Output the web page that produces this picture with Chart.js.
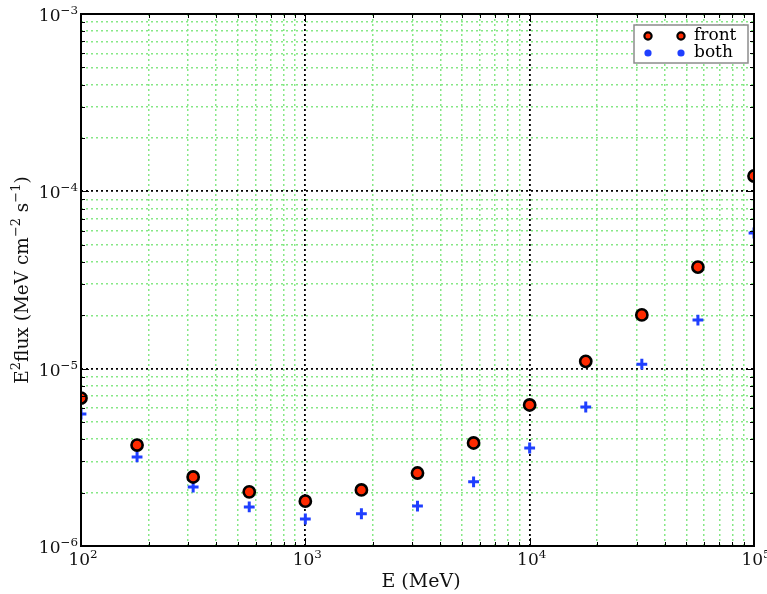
<!DOCTYPE html>
<html><head><meta charset="utf-8">
<script src="https://cdn.jsdelivr.net/npm/chart.js@4/dist/chart.umd.min.js"></script>
<style>html,body{margin:0;padding:0;background:#fff;} canvas{display:block;}</style>
</head><body>
<canvas id="c" width="767" height="594"></canvas>
<script>
const energies = [100, 177.8, 316.2, 562.3, 1000, 1778, 3162, 5623, 10000, 17783, 31623, 56234, 100000];
const fluxFront = [6.83e-6, 3.71e-6, 2.45e-6, 2.02e-6, 1.79e-6, 2.07e-6, 2.58e-6, 3.81e-6, 6.24e-6, 1.10e-5, 2.01e-5, 3.74e-5, 1.22e-4];
const fluxBoth = [5.55e-6, 3.18e-6, 2.15e-6, 1.66e-6, 1.42e-6, 1.52e-6, 1.68e-6, 2.30e-6, 3.57e-6, 6.08e-6, 1.06e-5, 1.88e-5, 5.82e-5];
const seriesNames = ['front', 'both'];
const xDecades = [100, 1000, 10000, 100000];
const xTickExponents = ['2', '3', '4', '5'];
const yDecades = [1e-6, 1e-5, 1e-4, 1e-3];
const yTickExponents = ['-6', '-5', '-4', '-3'];
const xTitle = [['E (MeV)', false]];
const yTitle = [['E', false], ['2', true], ['flux (MeV cm', false], ['−2', true], [' s', false], ['−1', true], [')', false]];

const SERIF = '"DejaVu Serif", serif';
const RED = '#ff2a00', BLUE = '#1f3fff', GREEN = '#86e886';

function withMinors(decades) {
  const out = [];
  for (let i = 0; i < decades.length; i++) {
    out.push(decades[i]);
    if (i < decades.length - 1) for (let k = 2; k <= 9; k++) out.push(decades[i] * k);
  }
  return out;
}
function isMajor(v) { const l = Math.log10(v); return Math.abs(l - Math.round(l)) < 1e-9; }
const xAll = withMinors(xDecades), yAll = withMinors(yDecades);

// rich text: segments [text, isSuperscript]
function richWidth(ctx, segs, size) {
  let w = 0;
  segs.forEach(([t, sup]) => { ctx.font = (sup ? size * 0.7 : size) + 'px ' + SERIF; w += ctx.measureText(t).width; });
  return w;
}
function drawRich(ctx, segs, x, baseline, size, align) {
  const w = richWidth(ctx, segs, size);
  let cx = align === 'right' ? x - w : align === 'center' ? x - w / 2 : x;
  ctx.textAlign = 'left'; ctx.textBaseline = 'alphabetic';
  segs.forEach(([t, sup]) => {
    ctx.font = (sup ? size * 0.7 : size) + 'px ' + SERIF;
    ctx.fillText(t, cx, sup ? baseline - size * 0.42 : baseline);
    cx += ctx.measureText(t).width;
  });
}

const gridOpts = {
  drawTicks: false,
  color: c => isMajor(c.tick.value) ? '#000000' : GREEN,
  lineWidth: c => isMajor(c.tick.value) ? 1.8 : 1.5
};
const borderOpts = { display: false, dash: [2, 3] };

const framePlugin = {
  id: 'frame',
  afterDatasetsDraw(chart) {
    const ctx = chart.ctx, a = chart.chartArea, xs = chart.scales.x, ys = chart.scales.y;
    ctx.save();
    ctx.strokeStyle = '#000'; ctx.lineWidth = 1;
    xAll.forEach(v => {
      const p = Math.round(xs.getPixelForValue(v)) + 0.5, L = isMajor(v) ? 8 : 4;
      ctx.beginPath(); ctx.moveTo(p, a.bottom); ctx.lineTo(p, a.bottom - L);
      ctx.moveTo(p, a.top); ctx.lineTo(p, a.top + L); ctx.stroke();
    });
    yAll.forEach(v => {
      const p = Math.round(ys.getPixelForValue(v)) + 0.5, L = isMajor(v) ? 8 : 4;
      ctx.beginPath(); ctx.moveTo(a.left, p); ctx.lineTo(a.left + L, p);
      ctx.moveTo(a.right, p); ctx.lineTo(a.right - L, p); ctx.stroke();
    });
    ctx.lineWidth = 2;
    ctx.strokeRect(a.left, a.top, a.right - a.left, a.bottom - a.top);
    ctx.restore();
  },
  afterDraw(chart) {
    const ctx = chart.ctx, a = chart.chartArea, xs = chart.scales.x, ys = chart.scales.y;
    ctx.save();
    ctx.fillStyle = '#111';
    // tick labels
    xDecades.forEach((v, i) => {
      const p = xs.getPixelForValue(v);
      const segs = [['10', false], [xTickExponents[i].replace('-', '−'), true]];
      const w = richWidth(ctx, segs, 17);
      drawRich(ctx, segs, p - w / 2 + 2, a.bottom + 19, 17, 'left');
    });
    yDecades.forEach((v, i) => {
      const p = ys.getPixelForValue(v);
      const segs = [['10', false], [yTickExponents[i].replace('-', '−'), true]];
      drawRich(ctx, segs, a.left - 3, p + 7, 17, 'right');
    });
    // axis titles
    drawRich(ctx, xTitle, 421, 587, 19, 'center');
    ctx.save();
    ctx.translate(28, (a.top + a.bottom) / 2);
    ctx.rotate(-Math.PI / 2);
    drawRich(ctx, yTitle, 0, 0, 18.5, 'center');
    ctx.restore();
    ctx.restore();
    // legend
    ctx.save();
    const bx = 634, by = 25, bw = 114, bh = 38;
    ctx.fillStyle = '#fff'; ctx.fillRect(bx, by, bw, bh);
    ctx.strokeStyle = '#8c8c8c'; ctx.lineWidth = 1.5; ctx.strokeRect(bx, by, bw, bh);
    const rows = [by + 11, by + 28];
    [648, 681].forEach(mx => {
      ctx.beginPath(); ctx.arc(mx, rows[0], 3.6, 0, Math.PI * 2);
      ctx.fillStyle = RED; ctx.fill(); ctx.lineWidth = 2.2; ctx.strokeStyle = '#000'; ctx.stroke();
      ctx.beginPath(); ctx.arc(mx, rows[1], 3.6, 0, Math.PI * 2);
      ctx.fillStyle = BLUE; ctx.fill();
    });
    ctx.fillStyle = '#000'; ctx.font = '17px ' + SERIF;
    ctx.textAlign = 'left'; ctx.textBaseline = 'middle';
    ctx.fillText(seriesNames[0], 694, rows[0]);
    ctx.fillText(seriesNames[1], 694, rows[1]);
    ctx.restore();
  }
};

new Chart(document.getElementById('c'), {
  type: 'scatter',
  data: {
    datasets: [
      {
        label: seriesNames[0],
        data: energies.map((e, i) => ({ x: e, y: fluxFront[i] })),
        pointStyle: 'circle', pointRadius: 5.6, pointBorderWidth: 2.6,
        backgroundColor: RED, borderColor: '#000', clip: 0, order: 1
      },
      {
        label: seriesNames[1],
        data: energies.map((e, i) => ({ x: e, y: fluxBoth[i] })),
        pointStyle: 'cross', pointRadius: 5.4, pointBorderWidth: 3,
        backgroundColor: BLUE, borderColor: BLUE, clip: 0, order: 2
      }
    ]
  },
  options: {
    responsive: false, animation: false, devicePixelRatio: 1,
    layout: { padding: { top: 14, right: 13, left: 0, bottom: 0 } },
    plugins: { legend: { display: false }, tooltip: { enabled: false } },
    scales: {
      x: {
        type: 'logarithmic', min: xDecades[0], max: xDecades[xDecades.length - 1],
        afterBuildTicks: s => { s.ticks = xAll.map(v => ({ value: v })); },
        afterFit: s => { s.height = 48; },
        grid: gridOpts, border: borderOpts,
        ticks: { display: false, autoSkip: false }
      },
      y: {
        type: 'logarithmic', min: yDecades[0], max: yDecades[yDecades.length - 1],
        afterBuildTicks: s => { s.ticks = yAll.map(v => ({ value: v })); },
        afterFit: s => { s.width = 81; },
        grid: gridOpts, border: borderOpts,
        ticks: { display: false, autoSkip: false }
      }
    }
  },
  plugins: [framePlugin]
});
</script>
</body></html>
